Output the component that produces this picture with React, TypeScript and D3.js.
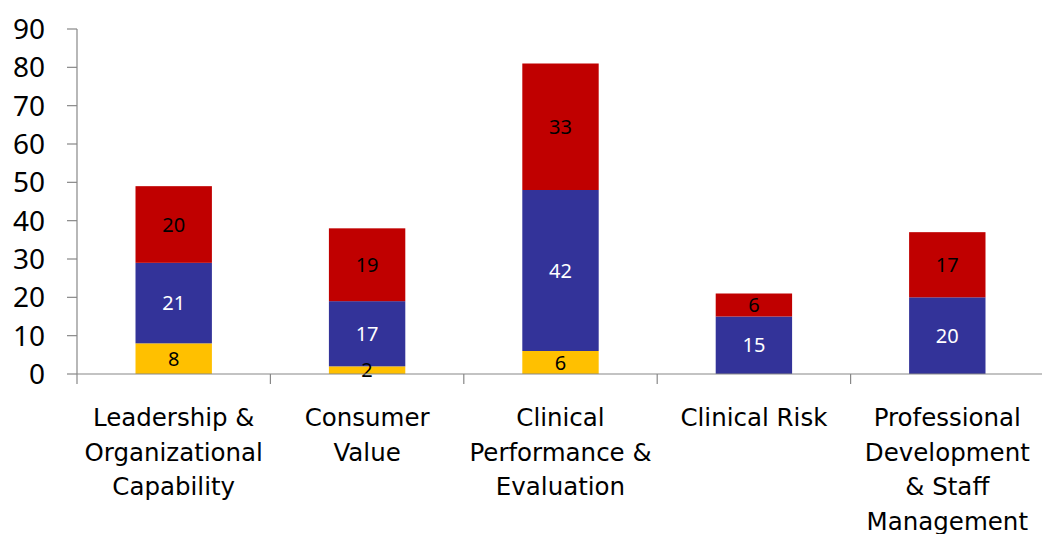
import React from "react";
import * as d3 from "d3";

const categories = [
  ["Leadership &", "Organizational", "Capability"],
  ["Consumer", "Value"],
  ["Clinical", "Performance &", "Evaluation"],
  ["Clinical Risk"],
  ["Professional", "Development", "& Staff", "Management"],
];
const yellowValues = [8, 2, 6, 0, 0];
const blueValues = [21, 17, 42, 15, 20];
const redValues = [20, 19, 33, 6, 17];
const yTicks = [0, 10, 20, 30, 40, 50, 60, 70, 80, 90];

const series = [
  { key: "yellow", values: yellowValues, color: "#FFC000", text: "#000" },
  { key: "blue", values: blueValues, color: "#333399", text: "#fff" },
  { key: "red", values: redValues, color: "#C00000", text: "#000" },
];

export default function App() {
  const W = 1042, H = 534;
  const left = 77, right = 1044, top = 29, bottom = 374;
  const y = d3.scaleLinear().domain([0, 90]).range([bottom, top]);
  const x = d3.scaleBand().domain(categories.map((_, i) => String(i))).range([left, right]).paddingInner(0).paddingOuter(0);
  const bw = x.bandwidth() * 0.395;
  const font = "'Noto Sans', 'DejaVu Sans', sans-serif";
  const labelFont = "'DejaVu Sans', 'Noto Sans', sans-serif";
  const stacks = categories.map((_, i) => {
    let acc = 0;
    return series.map((s) => {
      const v = s.values[i];
      const seg = { y0: acc, y1: acc + v, v, s };
      acc += v;
      return seg;
    });
  });
  const boundaries = d3.range(categories.length + 1).map((i) => left + i * x.step());
  return (
    <svg width={W} height={H} style={{ position: "absolute", left: 0, top: 0 }}>
      <rect width={W} height={H} fill="#fff" />
      {stacks.map((segs, i) => {
        const cx = (x(String(i)) as number) + x.bandwidth() / 2;
        return (
          <g key={i}>
            {segs.filter((d) => d.v > 0).map((d) => (
              <rect key={d.s.key} x={cx - bw / 2} width={bw} y={y(d.y1)} height={y(d.y0) - y(d.y1)} fill={d.s.color} />
            ))}
            {segs.filter((d) => d.v > 0).map((d) => (
              <text key={d.s.key + "t"} x={cx} y={y((d.y0 + d.y1) / 2)} dy="0.36em" textAnchor="middle" fontFamily={font} fontSize={20} fill={d.s.text}>
                {d.v}
              </text>
            ))}
          </g>
        );
      })}
      <line x1={left} x2={left} y1={top} y2={bottom} stroke="#888" strokeWidth={1.2} />
      <line x1={left} x2={right} y1={bottom} y2={bottom} stroke="#888" strokeWidth={1.2} />
      {yTicks.map((t) => (
        <g key={t}>
          <line x1={left - 10} x2={left} y1={y(t)} y2={y(t)} stroke="#888" strokeWidth={1.2} />
          <text x={45} y={y(t)} dy="0.36em" textAnchor="end" fontFamily={font} fontSize={28} fill="#000">{t}</text>
        </g>
      ))}
      {boundaries.map((bx, i) => (
        <line key={i} x1={bx} x2={bx} y1={bottom} y2={bottom + 10} stroke="#888" strokeWidth={1.2} />
      ))}
      {categories.map((lines, i) => {
        const cx = (x(String(i)) as number) + x.bandwidth() / 2;
        return (
          <text key={i} textAnchor="middle" fontFamily={labelFont} fontSize={24.5} fill="#000">
            {lines.map((l, j) => (
              <tspan key={j} x={cx} y={426 + j * 34.5}>{l}</tspan>
            ))}
          </text>
        );
      })}
    </svg>
  );
}
